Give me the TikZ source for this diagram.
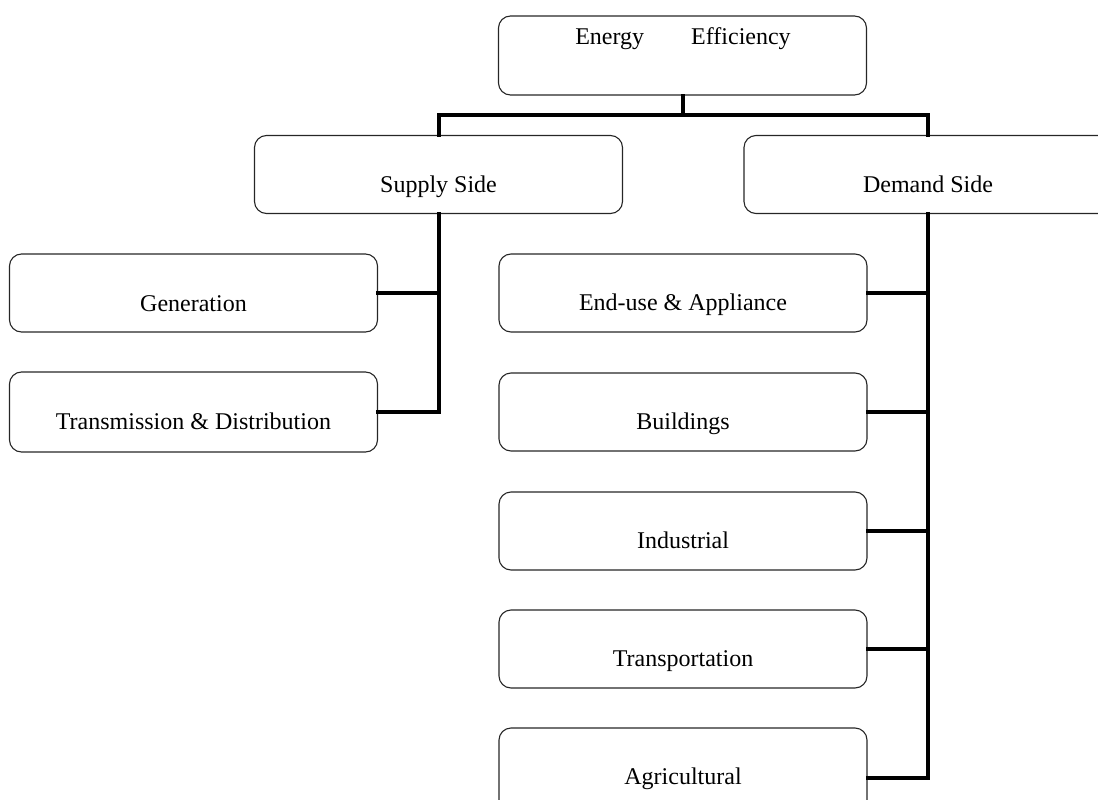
\documentclass[tikz,border=0pt]{standalone}
\usepackage{fontspec}
\setmainfont{Liberation Serif}
\begin{document}
\begin{tikzpicture}[x=1pt,y=-1pt,
  box/.style={draw=black!85, line width=1.1pt, rounded corners=12pt,
    rectangle, minimum width=368pt, minimum height=78pt, inner sep=0pt},
  lbl/.style={anchor=base, inner sep=0pt, font=\fontsize{24}{28}\selectfont},
  conn/.style={draw=black, line width=4pt, line join=miter, line cap=rect}]
\useasboundingbox (0,0) rectangle (1098,800);
\clip (0,0) rectangle (1098,800);

% boxes
\node[box, minimum height=79pt] (ee)  at (682.5,55.5) {};
\node[box] (sup) at (438.5,174.5) {};
\node[box] (dem) at (928,174.5) {};
\node[box] (gen) at (193.5,293) {};
\node[box, minimum height=80pt] (td) at (193.5,412) {};
\node[box] (eu)  at (683,293) {};
\node[box] (bld) at (683,412) {};
\node[box] (ind) at (683,531) {};
\node[box] (trn) at (683,649) {};
\node[box, minimum height=100pt] (agr) at (683,778) {};

% labels
\node[lbl] (eeT)  at (683,45) {Energy\hspace{47pt}Efficiency};
\node[lbl] (supT) at (438.5,192) {Supply Side};
\node[lbl] (demT) at (928,192) {Demand Side};
\node[lbl] (genT) at (193.5,311) {Generation};
\node[lbl] (tdT)  at (193.5,429) {Transmission \& Distribution};
\node[lbl] (euT)  at (683,310) {End-use \& Appliance};
\node[lbl] (bldT) at (683,429) {Buildings};
\node[lbl] (indT) at (683,548) {Industrial};
\node[lbl] (trnT) at (683,666) {Transportation};
\node[lbl] (agrT) at (683,784) {Agricultural};

% connectors
\coordinate (top) at (682.5,115);
\draw[conn] (ee.south) -- (top);
\draw[conn] (sup.north) |- (top) -| (dem.north);

\draw[conn] (sup.south) |- (td.east);
\draw[conn] (gen.east) -| (sup.south);

\draw[conn] (dem.south) |- (agr.east);
\draw[conn] (eu.east)  -| (dem.south);
\draw[conn] (bld.east) -| (dem.south);
\draw[conn] (ind.east) -| (dem.south);
\draw[conn] (trn.east) -| (dem.south);
\end{tikzpicture}
\end{document}
